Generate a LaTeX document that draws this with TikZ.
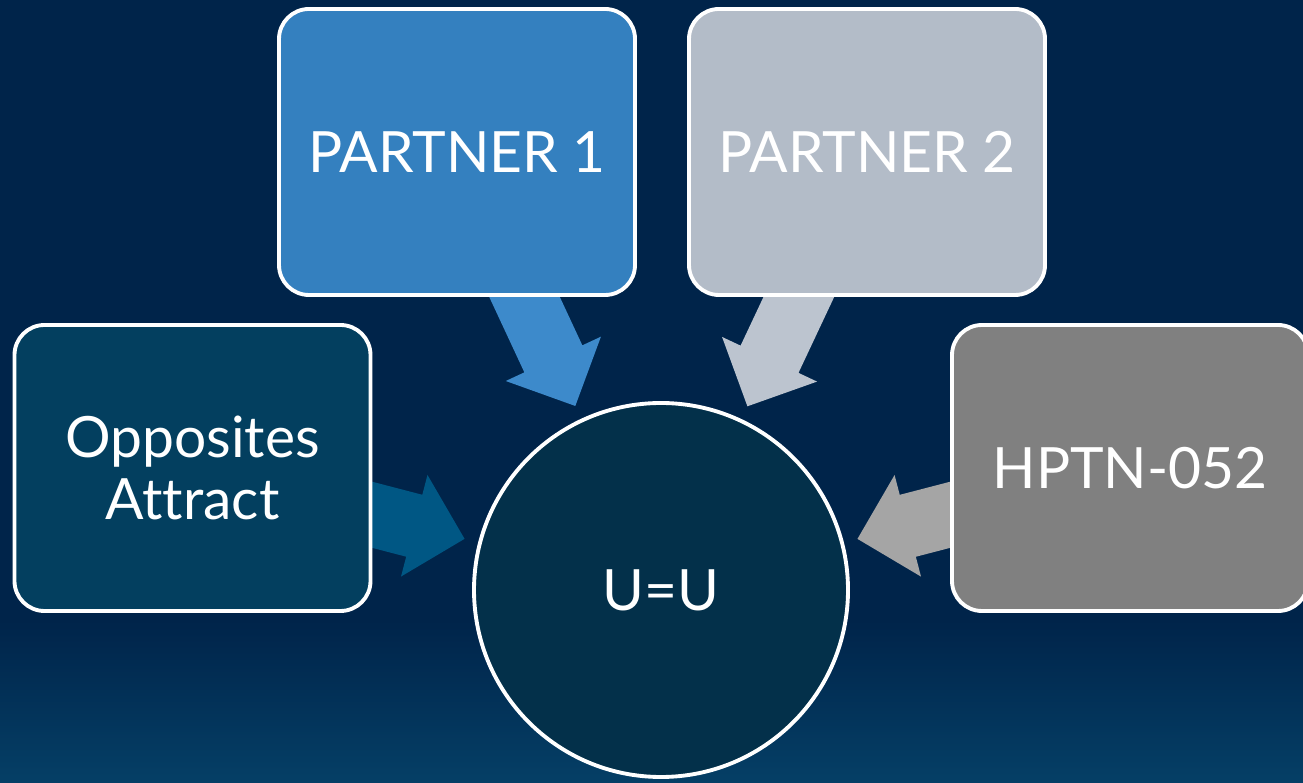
\documentclass[tikz,border=0pt]{standalone}
\usepackage{fontspec}
\setmainfont{Lato}[Ligatures={NoCommon,NoRare,NoDiscretionary}]
\usetikzlibrary{calc,backgrounds,shapes}

\definecolor{bgtop}{HTML}{00244A}
\definecolor{bgbottom}{HTML}{053F66}
\definecolor{oppfill}{HTML}{033F5F}
\definecolor{opparrow}{HTML}{005784}
\definecolor{ponefill}{HTML}{3480BF}
\definecolor{ponearrow}{HTML}{3D8ACB}
\definecolor{ptwofill}{HTML}{B3BCC8}
\definecolor{ptwoarrow}{HTML}{BCC4CF}
\definecolor{hpfill}{HTML}{808080}
\definecolor{hparrow}{HTML}{A5A5A5}
\definecolor{uufill}{HTML}{03304A}

% block arrow from the centre of #1 towards #2, colour #3
\newcommand{\blockarrow}[3]{
  \coordinate (h) at ($(#2.center)!2.55cm!(#1.center)$);
  \coordinate (t) at ($(#2.center)!2.03cm!(#1.center)$);
  \fill[#3] ($(#1.center)!0.32cm!90:(#2.center)$) -- ($(h)!0.32cm!90:(#2.center)$)
    -- ($(h)!0.525cm!90:(#2.center)$) -- (t) -- ($(h)!0.525cm!-90:(#2.center)$)
    -- ($(h)!0.32cm!-90:(#2.center)$) -- ($(#1.center)!0.32cm!-90:(#2.center)$) -- cycle;
}

\tikzset{
  box/.style={draw=white, line width=1.1pt, rounded corners=0.3cm,
    minimum width=3.56cm, minimum height=2.86cm, inner sep=0pt,
    text=white, align=center, font=\fontsize{16.2}{17.9}\selectfont},
  hub/.style={circle, draw=white, line width=1.1pt, minimum size=3.74cm,
    inner sep=0pt, text=white, font=\fontsize{16.2}{17.9}\selectfont}
}

\begin{document}
\begin{tikzpicture}
\useasboundingbox (0,0) rectangle (13.03,7.83);
\begin{pgfonlayer}{background}
\fill[bgtop] (0,0) rectangle (13.03,7.83);
\shade[top color=bgtop, bottom color=bgbottom] (0,0) rectangle (13.03,1.63);
\end{pgfonlayer}

\node[hub, fill=uufill] (uu) at (6.61,1.93) {U=U};
\node[box, fill=oppfill] (opp) at (1.925,3.15) {Opposites\\Attract};
\node[box, fill=ponefill] (pone) at (4.57,6.31) {PARTNER 1};
\node[box, fill=ptwofill] (ptwo) at (8.67,6.31) {PARTNER 2};
\node[box, fill=hpfill] (hptn) at (11.30,3.15) {HPTN-052};

\begin{pgfonlayer}{background}
\blockarrow{opp}{uu}{opparrow}
\blockarrow{pone}{uu}{ponearrow}
\blockarrow{ptwo}{uu}{ptwoarrow}
\blockarrow{hptn}{uu}{hparrow}
\end{pgfonlayer}
\end{tikzpicture}
\end{document}
